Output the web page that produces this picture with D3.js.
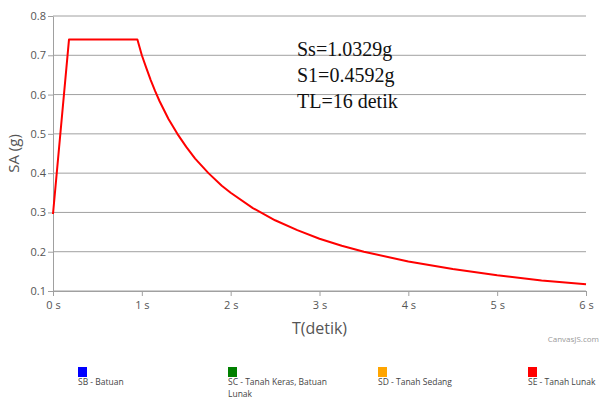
<!DOCTYPE html>
<html>
<head>
<meta charset="utf-8">
<script src="https://cdn.jsdelivr.net/npm/d3@7"></script>
<style>
  body { margin: 0; background: #fff; }
  svg { display: block; }
</style>
</head>
<body>
<div id="chart"></div>
<script>
const width = 600,
  height = 398,
  margin = { top: 16, right: 14, bottom: 107, left: 53 }

// periods (s) and spectral acceleration (g)
const periods = [0, 0.18, 0.95, 1.0, 1.05, 1.1, 1.15, 1.2, 1.3, 1.4, 1.5, 1.6, 1.75, 1.9, 2.0, 2.25, 2.5, 2.75, 3.0, 3.25, 3.5, 4.0, 4.5, 5.0, 5.5, 6.0]
const saValues = [0.296, 0.74, 0.74, 0.70, 0.668, 0.637, 0.609, 0.583, 0.538, 0.50, 0.467, 0.437, 0.40, 0.368, 0.35, 0.311, 0.28, 0.255, 0.233, 0.215, 0.20, 0.175, 0.156, 0.14, 0.127, 0.117]

const xTicks = [0, 1, 2, 3, 4, 5, 6]
const yTicks = [0.1, 0.2, 0.3, 0.4, 0.5, 0.6, 0.7, 0.8]

const notes = ["Ss=1.0329g", "S1=0.4592g", "TL=16 detik"]

const legendNames = ["SB - Batuan", "SC - Tanah Keras, Batuan Lunak", "SD - Tanah Sedang", "SE - Tanah Lunak"]
const legendColors = ["#0000ff", "#008000", "#ffa500", "#ff0000"]

const svg = d3.select("#chart")
  .append("svg")
  .attr("width", width)
  .attr("height", height)

const x = d3.scaleLinear()
  .domain([0, 6])
  .range([margin.left, width - margin.right])

const y = d3.scaleLinear()
  .domain([0.1, 0.8])
  .range([height - margin.bottom, margin.top])

// horizontal grid
svg.append("g")
  .selectAll("line")
  .data(yTicks)
  .join("line")
  .attr("x1", margin.left)
  .attr("x2", width - margin.right)
  .attr("y1", d => y(d))
  .attr("y2", d => y(d))
  .attr("stroke", "#a0a0a0")
  .attr("stroke-width", 1)

// y axis
const yAxis = svg.append("g")
  .attr("transform", `translate(${margin.left},0)`)
  .call(d3.axisLeft(y).tickValues(yTicks).tickFormat(d3.format(".1f")).tickSize(5).tickSizeOuter(0))
yAxis.select(".domain").attr("stroke", "#a0a0a0")
yAxis.selectAll(".tick line").attr("stroke", "#a0a0a0")
yAxis.selectAll(".tick text")
  .attr("x", -7)
  .attr("fill", "#555")
  .style("font-family", "'Open Sans', sans-serif")
  .style("font-size", "11px")

// x axis
const xAxis = svg.append("g")
  .attr("transform", `translate(0,${height - margin.bottom})`)
  .call(d3.axisBottom(x).tickValues(xTicks).tickFormat(d => d + " s").tickSize(5).tickSizeOuter(0))
xAxis.select(".domain").attr("stroke", "#a0a0a0")
xAxis.selectAll(".tick line").attr("stroke", "#a0a0a0")
xAxis.selectAll(".tick text")
  .attr("y", 10)
  .attr("fill", "#555")
  .style("font-family", "'Open Sans', sans-serif")
  .style("font-size", "11px")

// axis titles
svg.append("text")
  .attr("x", (margin.left + width - margin.right) / 2)
  .attr("y", 334)
  .attr("text-anchor", "middle")
  .attr("fill", "#555")
  .style("font-family", "'Open Sans', sans-serif")
  .style("font-size", "16px")
  .text("T(detik)")

svg.append("text")
  .attr("transform", `translate(19,${(margin.top + height - margin.bottom) / 2}) rotate(-90)`)
  .attr("text-anchor", "middle")
  .attr("fill", "#555")
  .style("font-family", "'Open Sans', sans-serif")
  .style("font-size", "15px")
  .text("SA (g)")

// response spectrum
const points = periods.map((t, i) => [t, saValues[i]])
const line = d3.line()
  .x(d => x(d[0]))
  .y(d => y(d[1]))

svg.append("path")
  .datum(points)
  .attr("d", line)
  .attr("fill", "none")
  .attr("stroke", "#ff0000")
  .attr("stroke-width", 2)
  .attr("stroke-linejoin", "round")

// parameters box
svg.append("g")
  .selectAll("text")
  .data(notes)
  .join("text")
  .attr("x", 297)
  .attr("y", (d, i) => 56 + i * 26)
  .attr("fill", "#111")
  .style("font-family", "'Liberation Serif', serif")
  .style("font-size", "20px")
  .text(d => d)

// watermark
svg.append("text")
  .attr("x", 599)
  .attr("y", 342)
  .attr("text-anchor", "end")
  .attr("fill", "#999")
  .style("font-family", "'Open Sans', sans-serif")
  .style("font-size", "8px")
  .text("CanvasJS.com")

// legend
const legend = svg.append("g")
  .selectAll("g")
  .data(legendNames)
  .join("g")
  .attr("transform", (d, i) => `translate(${78 + i * 150},367)`)

legend.append("rect")
  .attr("width", 9)
  .attr("height", 10)
  .attr("fill", (d, i) => legendColors[i])

legend.append("text")
  .attr("y", 18)
  .attr("fill", "#444")
  .style("font-family", "'Open Sans', sans-serif")
  .style("font-size", "8.5px")
  .each(function (d) {
    // wrap long legend names like the original
    const words = d.split(" ")
    const lines = []
    let current = ""
    words.forEach(w => {
      const test = current ? current + " " + w : w
      if (test.length > 26 && current) {
        lines.push(current)
        current = w
      } else {
        current = test
      }
    })
    lines.push(current)
    d3.select(this).selectAll("tspan")
      .data(lines)
      .join("tspan")
      .attr("x", 0)
      .attr("dy", (l, i) => i === 0 ? 0 : 12)
      .text(l => l)
  })
</script>
</body>
</html>
